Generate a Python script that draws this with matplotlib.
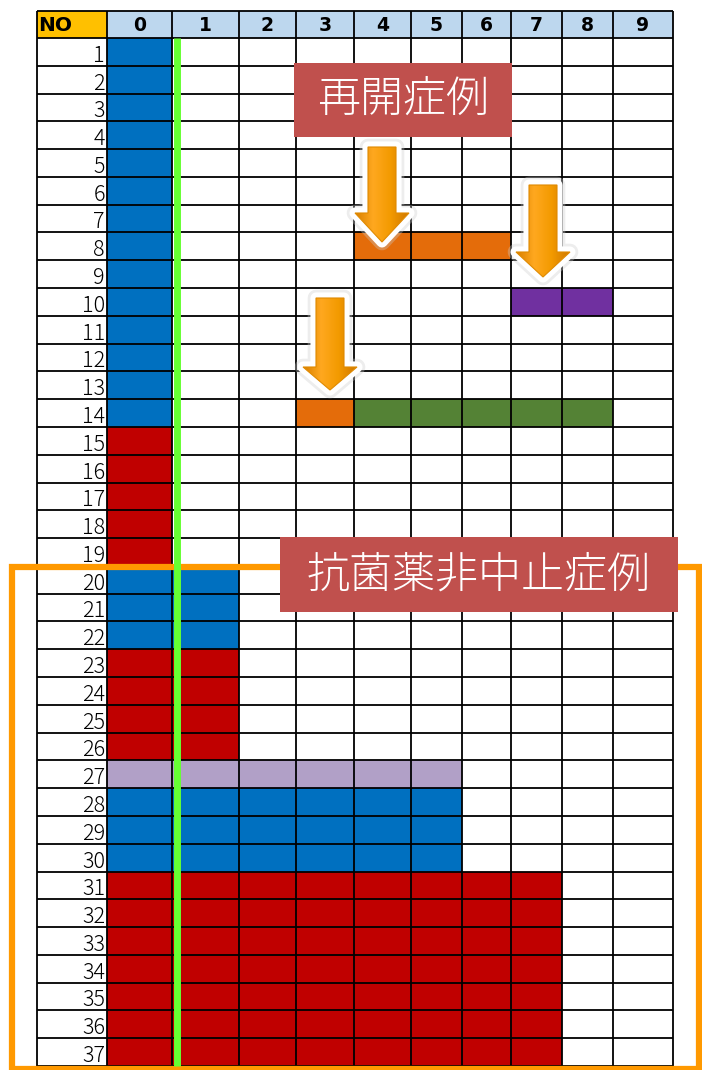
import matplotlib
matplotlib.use("Agg")
import matplotlib.pyplot as plt
import numpy as np
from matplotlib.patches import Rectangle, Polygon
from matplotlib.colors import LinearSegmentedColormap

# table content
row_numbers = list(range(1, 38))
col_labels = ["0", "1", "2", "3", "4", "5", "6", "7", "8", "9"]

# filled runs: row, first column, last column, colour
fill_rows  = [1, 2, 3, 4, 5, 6, 7, 8, 9, 10, 11, 12, 13, 14,
              15, 16, 17, 18, 19,
              8, 10, 14, 14,
              20, 21, 22, 23, 24, 25, 26,
              27, 28, 29, 30,
              31, 32, 33, 34, 35, 36, 37]
fill_start = [0] * 19 + [4, 7, 3, 4] + [0] * 18
fill_end   = [0] * 19 + [6, 8, 3, 8] + [1] * 7 + [5] * 4 + [7] * 7
fill_color = (["#0070C0"] * 14 + ["#C00000"] * 5
              + ["#E46C0A", "#7030A0", "#E46C0A", "#548235"]
              + ["#0070C0"] * 3 + ["#C00000"] * 4
              + ["#B1A0C7"] + ["#0070C0"] * 3 + ["#C00000"] * 7)

label_top = "再開症例"
label_bottom = "抗菌薬非中止症例"

# layout in pixels
col_edges = [37, 107, 172, 239, 296, 354, 411, 462, 511, 562, 613, 673]
head_top, head_bot = 11, 38
row_h = (1066 - 38) / 37
jp = ["Noto Sans CJK JP", "DejaVu Sans"]


def row_y(r):
    return head_bot + (r - 1) * row_h


fig = plt.figure(figsize=(7.02, 10.70), dpi=100)
ax = fig.add_axes([0, 0, 1, 1])
ax.set_xlim(0, 702)
ax.set_ylim(1070, 0)
ax.axis("off")

# header
ax.add_patch(Rectangle((col_edges[0], head_top), col_edges[1] - col_edges[0],
                       head_bot - head_top, fc="#FFC000", ec="none", zorder=1))
ax.add_patch(Rectangle((col_edges[1], head_top), col_edges[-1] - col_edges[1],
                       head_bot - head_top, fc="#BDD7EE", ec="none", zorder=1))
ax.text(col_edges[0] + 1, (head_top + head_bot) / 2 + 1, "NO", ha="left", va="center",
        fontsize=14.5, fontweight="bold", family="DejaVu Sans", zorder=5)
for i, lab in enumerate(col_labels):
    ax.text((col_edges[i + 1] + col_edges[i + 2]) / 2, (head_top + head_bot) / 2 + 1, lab,
            ha="center", va="center", fontsize=13.5, fontweight="bold",
            family="DejaVu Sans", zorder=5)

# cells
for r, c0, c1, col in zip(fill_rows, fill_start, fill_end, fill_color):
    x0 = col_edges[c0 + 1]
    x1 = col_edges[c1 + 2]
    ax.add_patch(Rectangle((x0, row_y(r)), x1 - x0, row_h, fc=col, ec="none", zorder=1))

for r in row_numbers:
    ax.text(col_edges[1] - 2, row_y(r) + row_h - 4, str(r), ha="right", va="baseline",
            fontsize=15.5, fontweight="light", family=jp, zorder=5)

# grid
ys = [head_top, head_bot] + [row_y(r) + row_h for r in row_numbers]
ax.hlines(ys, col_edges[0], col_edges[-1], color="black", lw=1.3, zorder=2)
ax.vlines(col_edges, head_top, ys[-1], color="black", lw=1.3, zorder=2)

# frame around non-stop cases
ax.add_patch(Rectangle((12, 567), 687, 502, fc="none", ec="#FF9900", lw=4.5, zorder=3))

# green day-1 line
ax.plot([176.5, 176.5], [head_bot, 1066], color="#66FF33", lw=5, solid_capstyle="butt", zorder=4)

# labels
ax.add_patch(Rectangle((294, 63), 218, 74, fc="#C0504D", ec="none", zorder=6))
ax.text(403, 99, label_top, ha="center", va="center", color="white", fontsize=31,
        fontweight="light", family=jp, zorder=7)
ax.add_patch(Rectangle((280, 537), 398, 75, fc="#C0504D", ec="none", zorder=6))
ax.text(479, 575, label_bottom, ha="center", va="center", color="white", fontsize=31,
        fontweight="light", family=jp, zorder=7)

# arrows
cmap = LinearSegmentedColormap.from_list("arr", ["#D98000", "#FFA81F", "#F39A00", "#D07800"])
arrows = [(382, 147, 213, 242), (543, 185, 252, 277), (330, 298, 367, 390)]
for xc, yt, yh, ytip in arrows:
    sw, hw = 14, 27
    pts = [(xc - sw, yt), (xc + sw, yt), (xc + sw, yh), (xc + hw, yh),
           (xc, ytip), (xc - hw, yh), (xc - sw, yh)]
    ax.add_patch(Polygon(pts, closed=True, fc="white", ec="#cccccc", lw=12,
                         joinstyle="round", alpha=0.35, zorder=6))
    ax.add_patch(Polygon(pts, closed=True, fc="white", ec="white", lw=8,
                         joinstyle="round", zorder=6))
    poly = Polygon(pts, closed=True, fc="none", ec="#E08A00", lw=0.8, zorder=8)
    ax.add_patch(poly)
    grad = np.linspace(0, 1, 64).reshape(1, -1)
    im = ax.imshow(grad, cmap=cmap, extent=(xc - hw, xc + hw, ytip, yt),
                   aspect="auto", zorder=7, interpolation="bilinear")
    im.set_clip_path(poly)

ax.set_xlim(0, 702)
ax.set_ylim(1070, 0)
fig.savefig("out.png", dpi=100)
